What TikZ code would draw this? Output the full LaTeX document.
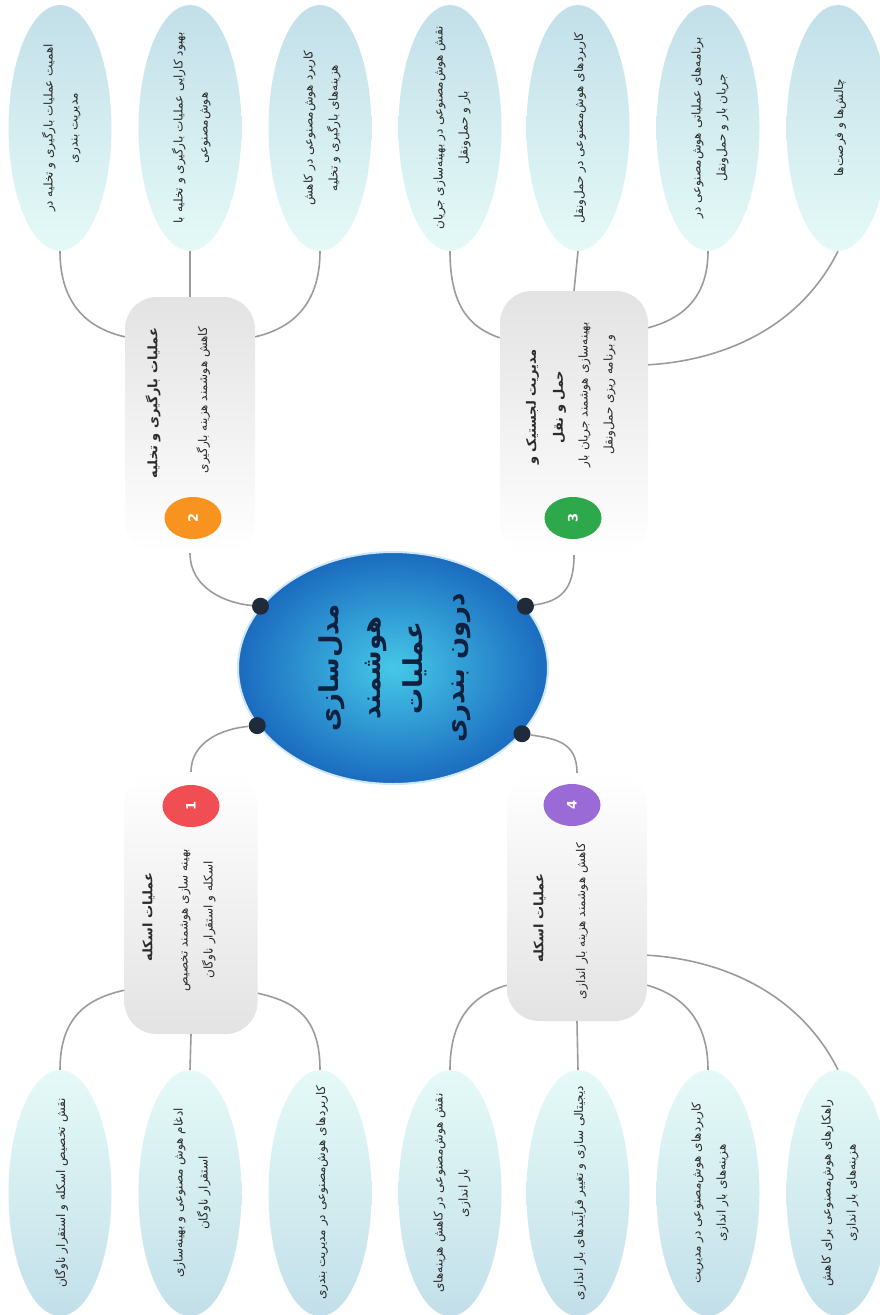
\documentclass[tikz,border=0pt]{standalone}
\usepackage{fontspec}
\usepackage{graphicx}
\newfontfamily\fa[Script=Arabic]{DejaVu Sans}
\TeXXeTstate=1
\usetikzlibrary{shapes.geometric}
\definecolor{hubin}{HTML}{45C8E8}
\definecolor{hubout}{HTML}{1B6BBF}
\definecolor{hubrim}{HTML}{CFE7F7}
\definecolor{hubtext}{HTML}{10203F}
\definecolor{dotc}{HTML}{1F2A3A}
\definecolor{linkc}{HTML}{9B9B9B}
\definecolor{boxc}{HTML}{E3E3E3}
\definecolor{leafdark}{HTML}{C2DFE9}
\definecolor{leaflight}{HTML}{E5FAF7}
\definecolor{numred}{HTML}{F04E52}
\definecolor{numorange}{HTML}{F7931E}
\definecolor{numgreen}{HTML}{2DA84A}
\definecolor{numpurple}{HTML}{9A6AD6}
\definecolor{textc}{HTML}{2B2B2B}

\newcommand{\fal}[1]{\beginR#1\endR}
% rotated lines, kept out of the node size
\newcommand{\vlines}[1]{\makebox[0pt]{\raisebox{-.5\height}[0pt][0pt]{\rotatebox{90}{\begin{tabular}{@{}c@{}}#1\end{tabular}}}}}

\tikzset{
  hub/.style={ellipse, minimum width=310pt, minimum height=232pt, inner sep=0pt,
    inner color=hubin, outer color=hubout, draw=hubrim, line width=2pt,
    text=hubtext, font=\fa\fontsize{26}{42}\selectfont\bfseries},
  hubdot/.style={circle, fill=dotc, minimum size=17pt, inner sep=0pt},
  link/.style={draw=linkc, line width=1.6pt},
  branch/.style={rectangle, rounded corners=32pt, draw=none, inner sep=0pt},
  head/.style={text=textc, inner sep=0pt, font=\fa\fontsize{13}{27}\selectfont\bfseries},
  sub/.style={text=textc, inner sep=0pt, font=\fa\fontsize{12}{25}\selectfont},
  num/.style={ellipse, minimum width=57pt, minimum height=42pt, inner sep=0pt,
    fill=#1, text=white, font=\fa\fontsize{13}{13}\selectfont\bfseries},
  leaf/.style={ellipse, minimum width=103pt, minimum height=246pt, inner sep=0pt,
    draw=none, text=textc, font=\fa\fontsize{12}{25}\selectfont},
  leaftop/.style={leaf, top color=leafdark, bottom color=leaflight},
  leafbot/.style={leaf, top color=leaflight, bottom color=leafdark}
}

\begin{document}
\begin{tikzpicture}[x=1pt, y=-1pt]
  \useasboundingbox (0,0) rectangle (879,1315);

  % central topic
  \node[hub] (hub) at (393,668) {\vlines{\fal{مدل‌سازی}\\ \fal{هوشمند}\\ \fal{عملیات}\\ \fal{درون بندری}}};
  \node[hubdot] (dot1) at (hub.203) {};
  \node[hubdot] (dot2) at (hub.155) {};
  \node[hubdot] (dot3) at (hub.25) {};
  \node[hubdot] (dot4) at (hub.333) {};

  % branch boxes
  \node[branch, minimum width=133pt, minimum height=262pt, top color=white, bottom color=boxc] (box1) at (191,903) {};
  \node[branch, minimum width=130pt, minimum height=256pt, top color=boxc, bottom color=white] (box2) at (190,425) {};
  \node[branch, minimum width=148pt, minimum height=264pt, top color=boxc, bottom color=white] (box3) at (574,423) {};
  \node[branch, minimum width=140pt, minimum height=248pt, top color=white, bottom color=boxc] (box4) at (577,897) {};

  \node[head] (head1) at (147,917) {\vlines{\fal{عملیات اسکله}}};
  \node[sub] (sub1) at (195,920) {\vlines{\fal{بهینه سازی هوشمند تخصیص}\\ \fal{اسکله و استقرار ناوگان}}};
  \node[head] (head2) at (152,403) {\vlines{\fal{عملیات بارگیری و تخلیه}}};
  \node[sub] (sub2) at (202,400) {\vlines{\fal{کاهش هوشمند هزینه بارگیری}}};
  \node[head] (head3) at (544,407) {\vlines{\fal{مدیریت لجستیک و}\\ \fal{حمل و نقل}}};
  \node[sub] (sub3) at (595,395) {\vlines{\fal{بهینه‌سازی هوشمند جریان بار}\\ \fal{و برنامه ریزی حمل‌ونقل}}};
  \node[head] (head4) at (538,918) {\vlines{\fal{عملیات اسکله}}};
  \node[sub] (sub4) at (580,921) {\vlines{\fal{کاهش هوشمند هزینه بار اندازی}}};

  \node[num=numred] (num1) at (191,806) {\rotatebox{90}{1}};
  \node[num=numorange] (num2) at (193,518) {\rotatebox{90}{2}};
  \node[num=numgreen] (num3) at (573,518) {\rotatebox{90}{3}};
  \node[num=numpurple] (num4) at (572,805) {\rotatebox{90}{4}};

  % top leaves
  \node[leaftop] (t1) at (60,128) {\vlines{\fal{اهمیت عملیات بارگیری و تخلیه در}\\ \fal{مدیریت بندری}}};
  \node[leaftop] (t2) at (190,128) {\vlines{\fal{بهبود کارایی عملیات بارگیری و تخلیه با}\\ \fal{هوش‌مصنوعی}}};
  \node[leaftop] (t3) at (320,128) {\vlines{\fal{کاربرد هوش‌مصنوعی در کاهش}\\ \fal{هزینه‌های بارگیری و تخلیه}}};
  \node[leaftop] (t4) at (450,128) {\vlines{\fal{نقش هوش‌مصنوعی در بهینه‌سازی جریان}\\ \fal{بار و حمل‌ونقل}}};
  \node[leaftop] (t5) at (578,128) {\vlines{\fal{کاربردهای هوش‌مصنوعی در حمل‌ونقل}}};
  \node[leaftop] (t6) at (708,128) {\vlines{\fal{برنامه‌های عملیاتی هوش‌مصنوعی در}\\ \fal{جریان بار و حمل‌ونقل}}};
  \node[leaftop] (t7) at (838,128) {\vlines{\fal{چالش‌ها و فرصت‌ها}}};

  % bottom leaves
  \node[leafbot] (b1) at (60,1193) {\vlines{\fal{نقش تخصیص اسکله و استقرار ناوگان}}};
  \node[leafbot] (b2) at (190,1193) {\vlines{\fal{ادغام هوش مصنوعی و بهینه‌سازی}\\ \fal{استقرار ناوگان}}};
  \node[leafbot] (b3) at (320,1193) {\vlines{\fal{کاربردهای هوش‌مصنوعی در مدیریت بندری}}};
  \node[leafbot] (b4) at (450,1193) {\vlines{\fal{نقش هوش‌مصنوعی در کاهش هزینه‌های}\\ \fal{بار اندازی}}};
  \node[leafbot] (b5) at (578,1193) {\vlines{\fal{دیجیتالی سازی و تغییر فرآیندهای بار اندازی}}};
  \node[leafbot] (b6) at (708,1193) {\vlines{\fal{کاربردهای هوش‌مصنوعی در مدیریت}\\ \fal{هزینه‌های بار اندازی}}};
  \node[leafbot] (b7) at (838,1193) {\vlines{\fal{راهکارهای هوش‌مصنوعی برای کاهش}\\ \fal{هزینه‌های بار اندازی}}};

  % hub to branches
  \draw[link] (dot1) .. controls +(-35,3) and +(0,-30) .. (box1.north);
  \draw[link] (box2.south) .. controls +(0,35) and +(-35,-3) .. (dot2);
  \draw[link] (box3.south) .. controls +(0,35) and +(35,-5) .. (dot3);
  \draw[link] (dot4) .. controls +(35,5) and +(0,-30) .. (box4.north);

  % branches to leaves
  \draw[link] (t1.south) .. controls +(0,55) and +(-35,-8) .. ([yshift=-40pt]box2.north west);
  \draw[link] (t2.south) -- (box2.north);
  \draw[link] (t3.south) .. controls +(0,55) and +(35,-8) .. ([yshift=-40pt]box2.north east);
  \draw[link] (t4.south) .. controls +(0,55) and +(-30,-10) .. ([yshift=-47pt]box3.north west);
  \draw[link] (t5.south) -- (box3.north);
  \draw[link] (t6.south) .. controls +(0,50) and +(30,-8) .. ([yshift=-37pt]box3.north east);
  \draw[link] (t7.south) .. controls +(-40,80) and +(70,-4) .. ([yshift=-74pt]box3.north east);
  \draw[link] ([yshift=44pt]box1.south west) .. controls +(-35,8) and +(0,-55) .. (b1.north);
  \draw[link] (box1.south) -- (b2.north);
  \draw[link] ([yshift=41pt]box1.south east) .. controls +(35,8) and +(0,-55) .. (b3.north);
  \draw[link] ([yshift=36pt]box4.south west) .. controls +(-35,10) and +(0,-50) .. (b4.north);
  \draw[link] (box4.south) -- (b5.north);
  \draw[link] ([yshift=36pt]box4.south east) .. controls +(35,10) and +(0,-50) .. (b6.north);
  \draw[link] ([yshift=66pt]box4.south east) .. controls +(70,4) and +(-40,-80) .. (b7.north);
\end{tikzpicture}
\end{document}
